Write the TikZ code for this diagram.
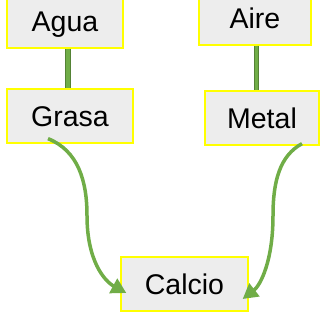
\documentclass[tikz,border=0pt]{standalone}
\usepackage{fontspec}
\setmainfont{Liberation Sans}
\definecolor{bxFill}{HTML}{EDEDED}
\definecolor{bxEdge}{HTML}{FFFF00}
\definecolor{grDark}{HTML}{548235}
\definecolor{grLight}{HTML}{70AD47}
\usetikzlibrary{arrows.meta}

\begin{document}
\begin{tikzpicture}[x=1pt, y=1pt,
  elem/.style={draw=bxEdge, line width=1.3pt, fill=bxFill, minimum height=54pt,
    inner sep=0pt, text height=20.4pt, text depth=0pt,
    font=\fontsize{28.5}{34}\selectfont},
  stem/.style={draw=grDark, double=grLight, line width=1.2pt, double distance=3.5pt},
  arr/.style={-{Triangle[length=15pt, width=16pt]}, line width=3.5pt, color=grLight}
]
  \useasboundingbox (0,0) rectangle (324,-322);

  \node[elem, minimum width=116pt] (agua) at (65,-21) {Agua};
  \node[elem, minimum width=126pt] (grasa) at (70,-116) {Grasa};
  \node[elem, minimum width=112pt] (aire) at (255,-18) {Aire};
  \node[elem, minimum width=114pt] (metal) at (262,-118) {Metal};
  \node[elem, minimum width=127pt] (calcio) at (184.5,-284) {Calcio};

  \draw[stem] ([xshift=3pt]agua.south) -- ([xshift=3pt]agua.south |- grasa.north);
  \draw[stem] ([xshift=1.5pt]aire.south) -- ([xshift=1.5pt]aire.south |- metal.north);

  \draw[arr] ([xshift=-22pt, yshift=5pt]grasa.south)
    .. controls +(30pt,-12pt) and +(0,35pt) .. ++(39pt,-77pt)
    .. controls +(0,-45pt) and +(-22pt,12pt) .. ([xshift=6pt, yshift=-9pt]calcio.west);
  \draw[arr] ([xshift=40pt, yshift=2pt]metal.south)
    .. controls +(-22pt,-12pt) and +(0,35pt) .. ++(-29pt,-72pt)
    .. controls +(0,-45pt) and +(18pt,14pt) .. ([xshift=-6pt, yshift=-15pt]calcio.east);
\end{tikzpicture}
\end{document}
